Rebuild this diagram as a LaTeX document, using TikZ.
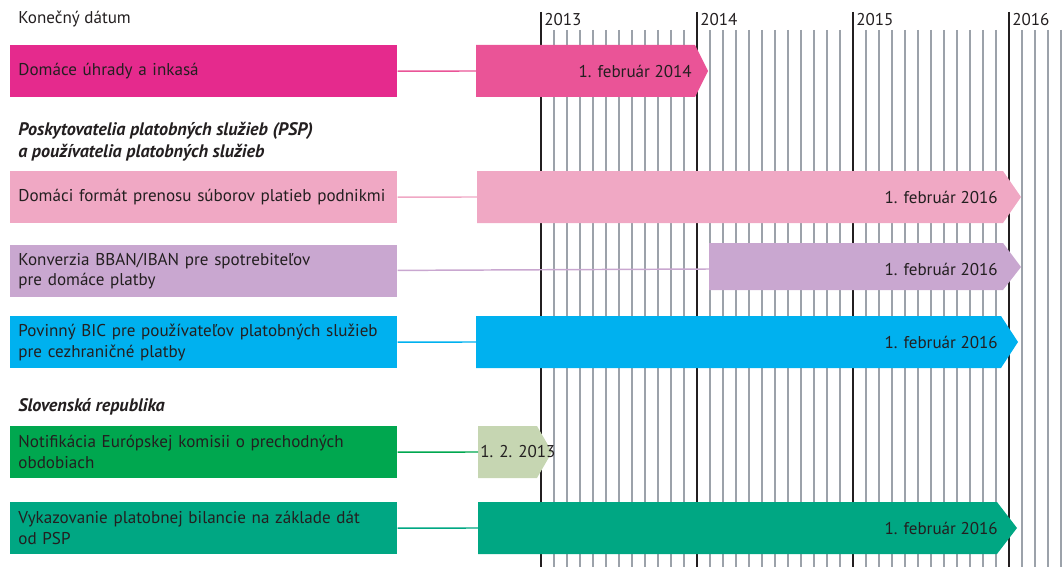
\documentclass[tikz,border=0pt]{standalone}
\usepackage{fontspec}
\setmainfont{PT Sans}
\definecolor{inkdark}{HTML}{231F20}
\definecolor{gridgray}{HTML}{9CA2AA}
\definecolor{cmagenta}{HTML}{E52A8D}
\definecolor{cmagbar}{HTML}{EA5497}
\definecolor{cpink}{HTML}{F0A8C4}
\definecolor{clavender}{HTML}{C9A7D0}
\definecolor{ccyan}{HTML}{00B1EF}
\definecolor{cgreen}{HTML}{00A74F}
\definecolor{csage}{HTML}{C6D6B2}
\definecolor{cteal}{HTML}{00A783}
\begin{document}
\begin{tikzpicture}[x=0.75pt, y=-0.75pt, font=\fontsize{12.8}{15.5}\selectfont, text=inkdark,
	labelbox/.style={anchor=north west, minimum width=290.25pt, minimum height=39pt, text width=278pt, inner xsep=6pt, align=left},
	datelabel/.style={anchor=east, inner sep=0pt},
	header/.style={anchor=base west, inner sep=0pt, font=\fontsize{13.6}{15.5}\selectfont\bfseries\itshape},
	conn/.style={line width=1.1pt}]
	\useasboundingbox (0,0) rectangle (1064,567);
	
	% grid
	\foreach \m in {1,...,40}
		\draw[gridgray, line width=1.5pt] ({541+13*\m},30) -- ({541+13*\m},567);
	\foreach \yr [count=\i from 0] in {2013,2014,2015,2016} {
		\draw[inkdark, line width=1.3pt] ({541+156*\i},12) -- ({541+156*\i},567);
		\node[anchor=base west, inner sep=0pt] (y\yr) at ({544+156*\i},26) {\yr};
	}
	
	\node[anchor=base west, inner sep=0pt] (title) at (18,24) {Konečný dátum};
	
	% Domace uhrady
	\node[labelbox, fill=cmagenta] (l1) at (10,45) {Domáce úhrady a inkasá};
	\fill[cmagbar] (476,45) -- (695,45) -- (708,71) -- (695,97) -- (476,97) -- cycle;
	\coordinate (b1) at (476,71);
	\node[datelabel] (d1) at (692,71) {1. február 2014};
	\draw[conn, cmagbar] (l1) -- (b1);
	
	\node[header] (h1) at (18,136) {Poskytovatelia platobných služieb (PSP)};
	\node[header] (h2) at (18,157) {a používatelia platobných služieb};
	
	% Domaci format
	\node[labelbox, fill=cpink] (l2) at (10,171) {Domáci formát prenosu súborov platieb podnikmi};
	\fill[cpink] (477,171) -- (1003,171) -- (1021,197) -- (1003,223) -- (477,223) -- cycle;
	\coordinate (b2) at (477,197);
	\node[datelabel] (d2) at (998,197) {1. február 2016};
	\draw[conn, cpink] (l2) -- (b2);
	
	% Konverzia
	\node[labelbox, fill=clavender] (l3) at (10,245) {Konverzia BBAN/IBAN pre spotrebiteľov\\pre domáce platby};
	\fill[clavender] (709,243) -- (1003,243) -- (1021,267) -- (1003,290) -- (709,290) -- cycle;
	\coordinate (b3) at (709,269);
	\node[datelabel] (d3) at (998,269) {1. február 2016};
	\draw[conn, clavender] (l3) -- (b3);
	
	% Povinny BIC
	\node[labelbox, fill=ccyan] (l4) at (10,316) {Povinný BIC pre používateľov platobných služieb\\pre cezhraničné platby};
	\fill[ccyan] (476,316) -- (1001,316) -- (1018,342) -- (1001,368) -- (476,368) -- cycle;
	\coordinate (b4) at (476,342);
	\node[datelabel] (d4) at (998,342) {1. február 2016};
	\draw[conn, ccyan] (l4) -- (b4);
	
	\node[header] (h3) at (18,411) {Slovenská republika};
	
	% Notifikacia
	\node[labelbox, fill=cgreen] (l5) at (10,426) {Notifikácia Európskej komisii o prechodných\\obdobiach};
	\fill[csage] (478,426) -- (537,426) -- (552,452) -- (537,478) -- (478,478) -- cycle;
	\coordinate (b5) at (478,452);
	\node[anchor=west, inner sep=0pt] (d5) at (480,452) {1. 2. 2013};
	\draw[conn, cgreen] (l5) -- (b5);
	
	% Vykazovanie
	\node[labelbox, fill=cteal] (l6) at (10,502) {Vykazovanie platobnej bilancie na základe dát\\od PSP};
	\fill[cteal] (478,502) -- (997,502) -- (1017,528) -- (997,554) -- (478,554) -- cycle;
	\coordinate (b6) at (478,528);
	\node[datelabel] (d6) at (998,528) {1. február 2016};
	\draw[conn, cteal] (l6) -- (b6);
\end{tikzpicture}
\end{document}
